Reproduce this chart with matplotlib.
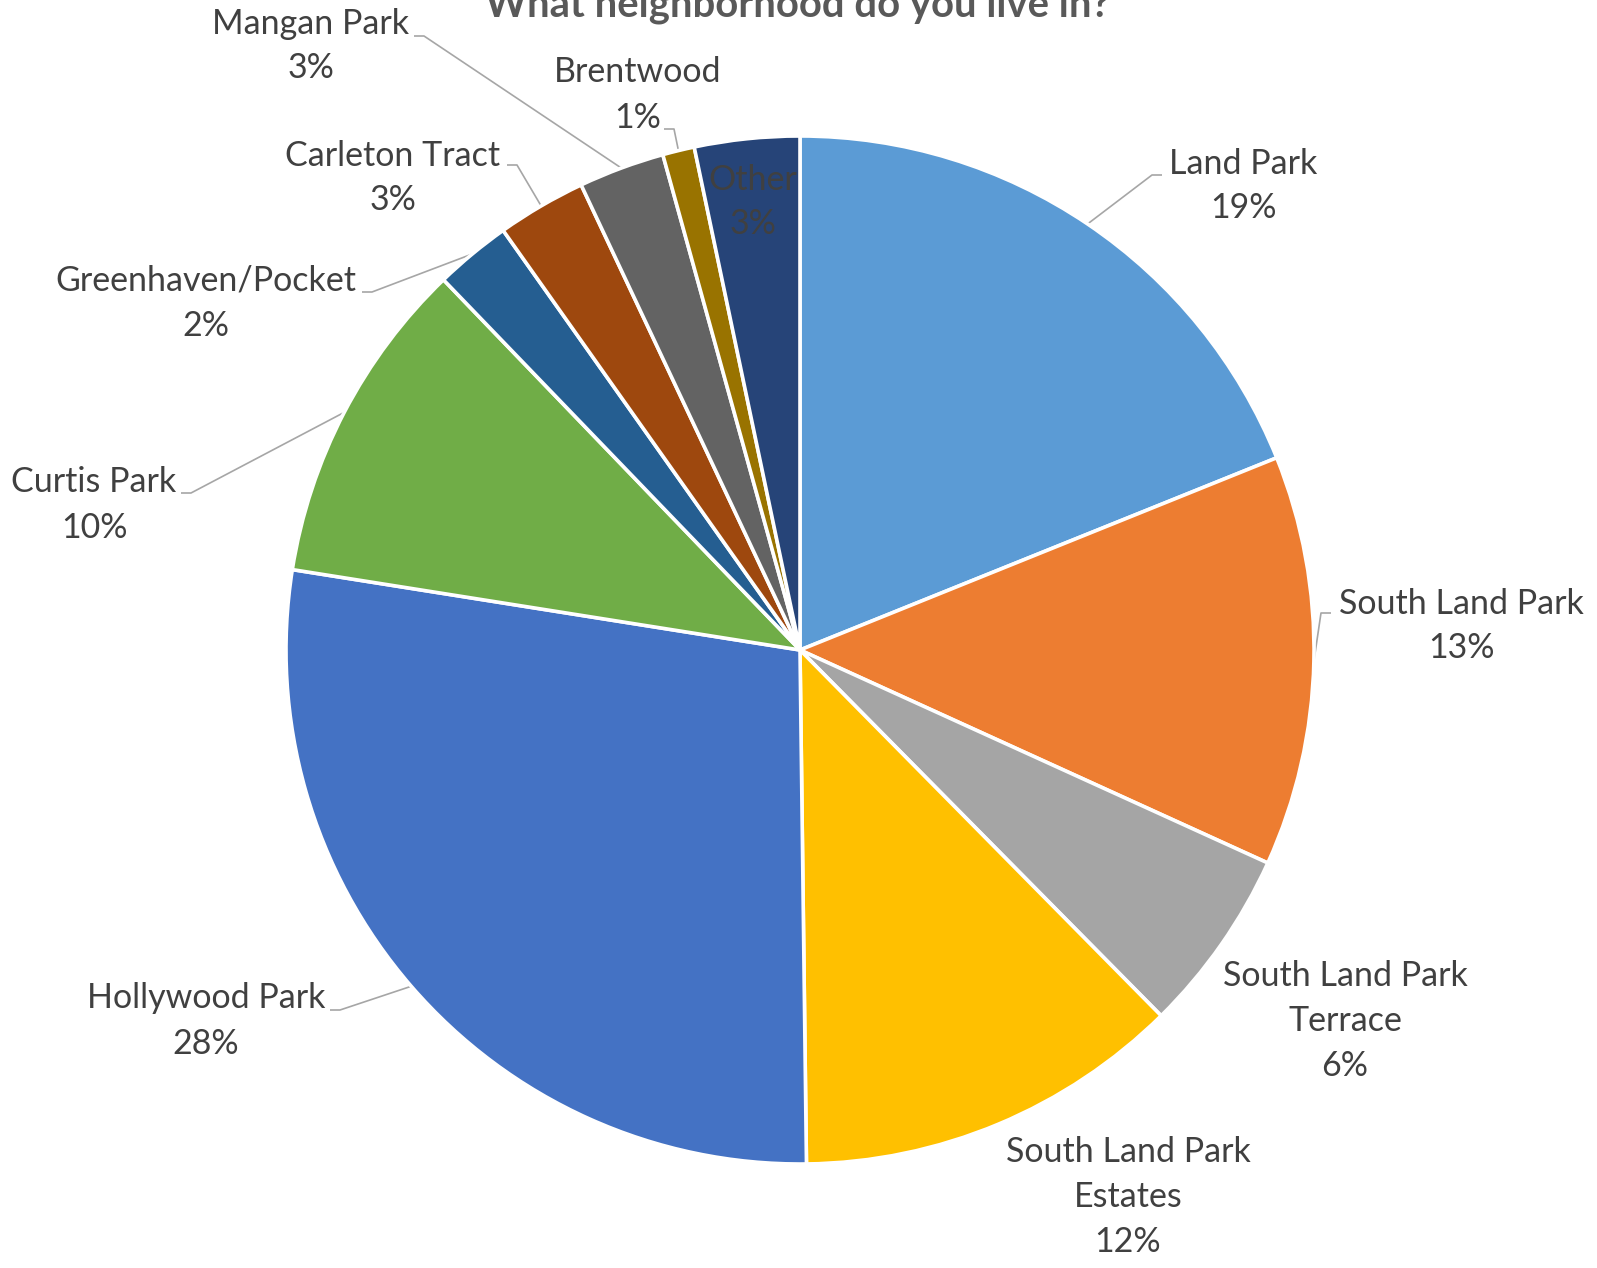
import matplotlib
matplotlib.use("Agg")
import matplotlib.pyplot as plt
import numpy as np

W, H = 1597, 1268

# survey answers, share of respondents (%)
neighborhoods = ["Land Park", "South Land Park", "South Land Park\nTerrace",
                 "South Land Park\nEstates", "Hollywood Park", "Curtis Park",
                 "Greenhaven/Pocket", "Carleton Tract", "Mangan Park",
                 "Brentwood", "Other"]
shares = [18.9, 12.9, 5.8, 12.2, 27.7, 10.3, 2.4, 2.8, 2.7, 1.0, 3.3]

colors = ["#5B9BD5", "#ED7D31", "#A5A5A5", "#FFC000", "#4472C4", "#70AD47",
          "#255E91", "#9E480E", "#636363", "#997300", "#264478"]

# label layout in pixels: text block centre, and elbow of the leader line (None = no leader)
label_layout = {
    "Land Park": ((1243, 186), (1152, 175)),
    "South Land Park": ((1461, 626), (1321, 613)),
    "South Land Park\nTerrace": ((1345, 1021), None),
    "South Land Park\nEstates": ((1128, 1197), None),
    "Hollywood Park": ((206, 1021), (340, 1010)),
    "Curtis Park": ((94, 505), (191, 493)),
    "Greenhaven/Pocket": ((206, 303), (372, 292)),
    "Carleton Tract": ((393, 178), (517, 165)),
    "Mangan Park": ((311, 46), (424, 36)),
    "Brentwood": ((638, 95), (674, 129)),
    "Other": ((753, 202), None),
}

CX, CY, R = 800, 650, 514
TEXT = "#404040"
LEADER = "#A6A6A6"
FONT = "Lato"

fig = plt.figure(figsize=(W / 100, H / 100), dpi=100)
ax = fig.add_axes([0, 0, 1, 1])

# y axis runs downwards, so counterclock=True draws clockwise on screen
wedges, _ = ax.pie(shares, colors=colors, center=(CX, CY), radius=R,
                   startangle=-90, counterclock=True, frame=True,
                   wedgeprops=dict(edgecolor="white", linewidth=2.6))
ax.set_xlim(0, W)
ax.set_ylim(H, 0)
ax.axis("off")

total = sum(shares)
for wedge, name, val in zip(wedges, neighborhoods, shares):
    (tx, ty), elbow = label_layout[name]
    pct = "%d%%" % int(round(val / total * 100))
    ax.text(tx, ty, name + "\n" + pct, ha="center", va="center",
            multialignment="center", fontsize=24.5, family=FONT,
            color=TEXT, linespacing=1.5)
    if elbow is None:
        continue
    mid = np.deg2rad((wedge.theta1 + wedge.theta2) / 2)
    ex, ey = CX + R * np.cos(mid), CY + R * np.sin(mid)
    side = 10 if tx > CX and name != "Brentwood" else -10
    ax.plot([elbow[0] + side, elbow[0], ex], [elbow[1], elbow[1], ey],
            color=LEADER, lw=1.2, solid_capstyle="butt", zorder=0)

ax.text(797, 16, "What neighborhood do you live in?", ha="center",
        va="baseline", fontsize=28.8, fontweight="bold", family=FONT,
        color="#595959")

fig.savefig("out.png", dpi=100, facecolor="white")
